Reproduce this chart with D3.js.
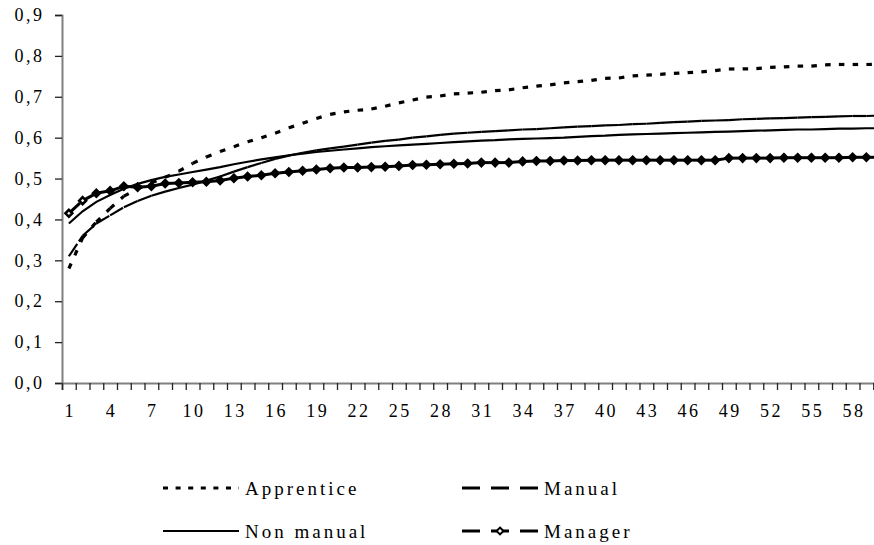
<!DOCTYPE html>
<html>
<head>
<meta charset="utf-8">
<script src="https://cdn.jsdelivr.net/npm/d3@7"></script>
<style>
  html, body { margin: 0; padding: 0; background: #fff; overflow: hidden; }
  svg { display: block; overflow: hidden; }
  text { font-family: "Liberation Serif", "DejaVu Serif", serif; fill: #000; }
</style>
</head>
<body>
<svg id="chart" width="874" height="545"></svg>
<script>
// ---- data ----
const categories = [1,2,3,4,5,6,7,8,9,10,11,12,13,14,15,16,17,18,19,20,21,22,23,24,25,26,27,28,29,30,
  31,32,33,34,35,36,37,38,39,40,41,42,43,44,45,46,47,48,49,50,51,52,53,54,55,56,57,58,59,60];
const xTickLabels = [1,4,7,10,13,16,19,22,25,28,31,34,37,40,43,46,49,52,55,58];
const yTicks = [0,0.1,0.2,0.3,0.4,0.5,0.6,0.7,0.8,0.9];
const yTickLabels = ["0,0","0,1","0,2","0,3","0,4","0,5","0,6","0,7","0,8","0,9"];
const seriesNames = ["Apprentice","Manual","Non manual","Manager"];

const apprentice = [0.280,0.355,0.394,0.427,0.457,0.475,0.490,0.503,0.518,0.537,
  0.553,0.566,0.578,0.590,0.600,0.611,0.624,0.635,0.647,0.657,
  0.663,0.667,0.670,0.677,0.685,0.692,0.699,0.702,0.707,0.709,
  0.711,0.715,0.717,0.722,0.726,0.729,0.734,0.737,0.740,0.745,
  0.746,0.751,0.753,0.755,0.757,0.759,0.761,0.764,0.768,0.768,
  0.769,0.772,0.773,0.775,0.775,0.778,0.779,0.779,0.779,0.780];
const manual = [0.310,0.360,0.390,0.410,0.430,0.445,0.458,0.468,0.477,0.485,
  0.495,0.505,0.517,0.528,0.538,0.548,0.556,0.563,0.569,0.574,
  0.578,0.583,0.588,0.592,0.595,0.600,0.603,0.607,0.610,0.612,
  0.614,0.616,0.618,0.620,0.621,0.623,0.625,0.627,0.628,0.630,
  0.631,0.633,0.634,0.636,0.638,0.639,0.641,0.642,0.643,0.645,
  0.646,0.647,0.648,0.649,0.650,0.651,0.652,0.653,0.653,0.654];
const nonManual = [0.390,0.420,0.443,0.460,0.475,0.487,0.496,0.504,0.510,0.516,
  0.522,0.528,0.535,0.541,0.547,0.552,0.557,0.561,0.565,0.568,
  0.571,0.574,0.577,0.579,0.581,0.583,0.585,0.587,0.589,0.591,
  0.593,0.594,0.596,0.597,0.598,0.599,0.600,0.602,0.604,0.605,
  0.607,0.608,0.609,0.610,0.611,0.612,0.613,0.614,0.615,0.616,
  0.617,0.618,0.619,0.620,0.620,0.621,0.622,0.622,0.623,0.623];
const manager = [0.415,0.446,0.464,0.470,0.481,0.479,0.481,0.488,0.489,0.491,
  0.492,0.495,0.501,0.505,0.508,0.513,0.516,0.519,0.522,0.525,
  0.527,0.527,0.528,0.529,0.531,0.533,0.534,0.535,0.536,0.537,
  0.539,0.539,0.539,0.542,0.543,0.543,0.544,0.544,0.545,0.545,
  0.545,0.545,0.545,0.545,0.545,0.545,0.545,0.545,0.550,0.550,
  0.550,0.550,0.551,0.551,0.551,0.551,0.551,0.552,0.552,0.552];

// ---- layout ----
const svg = d3.select("#chart");
const mLeft = 62, mRight = 887, mTop = 15, mBottom = 383;
const x = d3.scaleBand().domain(categories).range([mLeft, mRight]).padding(0);
const xEdge = d3.scaleLinear().domain([0, categories.length]).range([mLeft, mRight]);
const y = d3.scaleLinear().domain([0, 0.9]).range([mBottom, mTop]);
const cx = d => x(d) + x.bandwidth() / 2;
const FONT = 18, LS = 2.5;

// y axis
const yAxis = svg.append("g").attr("transform", `translate(${mLeft},0)`)
  .call(d3.axisLeft(y).tickValues(yTicks).tickSize(7).tickPadding(10.5)
    .tickFormat((d, i) => yTickLabels[i]));
yAxis.select(".domain").attr("stroke", "#808080").attr("stroke-width", 2);
yAxis.selectAll(".tick line").attr("stroke", "#222").attr("stroke-width", 1.3);
yAxis.selectAll(".tick text").attr("font-size", FONT).attr("letter-spacing", LS)
  .attr("font-family", "Liberation Serif").attr("fill", "#000");

// x axis: ticks at category boundaries
const xAxis = svg.append("g").attr("transform", `translate(0,${mBottom})`)
  .call(d3.axisBottom(xEdge).tickValues(d3.range(0, categories.length + 1)).tickSize(7).tickFormat(""));
xAxis.select(".domain").attr("stroke", "#808080").attr("stroke-width", 2);
xAxis.selectAll(".tick line").attr("stroke", "#222").attr("stroke-width", 1.3);

// x labels at category centres
const xLab = svg.append("g").attr("transform", `translate(0,${mBottom})`)
  .call(d3.axisBottom(x).tickValues(xTickLabels).tickSize(0).tickPadding(21));
xLab.select(".domain").remove();
xLab.selectAll(".tick text").attr("font-size", FONT).attr("letter-spacing", LS)
  .attr("font-family", "Liberation Serif").attr("fill", "#000").attr("dx", LS / 2);

// ---- series ----
const plot = svg.append("g");
function segments(vals) {
  const segs = [];
  for (let i = 0; i < vals.length - 1; i++) {
    segs.push([[cx(categories[i]), y(vals[i])], [cx(categories[i + 1]), y(vals[i + 1])]]);
  }
  return segs;
}
const lineGen = d3.line();

// Non manual: solid
plot.append("path").datum(nonManual)
  .attr("d", d3.line().x((d, i) => cx(categories[i])).y(d => y(d)))
  .attr("fill", "none").attr("stroke", "#000").attr("stroke-width", 2.2);

// Manual: long dash, pattern restarting on each segment
plot.append("g").selectAll("path").data(segments(manual)).join("path")
  .attr("d", lineGen).attr("fill", "none").attr("stroke", "#000")
  .attr("stroke-width", 2.2).attr("stroke-dasharray", "15,3");

// Apprentice: dotted, pattern restarting on each segment
plot.append("g").selectAll("path").data(segments(apprentice)).join("path")
  .attr("d", lineGen).attr("fill", "none").attr("stroke", "#000")
  .attr("stroke-width", 3.2).attr("stroke-dasharray", "5.5,9");

// Manager: dashed thick line with diamond markers
plot.append("g").selectAll("path").data(segments(manager)).join("path")
  .attr("d", lineGen).attr("fill", "none").attr("stroke", "#000")
  .attr("stroke-width", 3).attr("stroke-dasharray", "15,3");
const diamond = d3.symbol().type(d3.symbolDiamond2).size(30);
plot.append("g").selectAll("path").data(manager).join("path")
  .attr("d", diamond)
  .attr("transform", (d, i) => `translate(${cx(categories[i])},${y(d)})`)
  .attr("fill", (d, i) => i < 2 ? "#fff" : "#000").attr("stroke", "#000").attr("stroke-width", 2.6);

// ---- legend ----
const legend = svg.append("g");
const legItems = [
  { name: seriesNames[0], x: 163, y: 488, dash: "5,7.6", w: 3, marker: false },
  { name: seriesNames[1], x: 462, y: 488, dash: "18,11", w: 3, marker: false },
  { name: seriesNames[2], x: 163, y: 531, dash: null, w: 2, marker: false },
  { name: seriesNames[3], x: 462, y: 531, dash: "18,11", w: 3, marker: true }
];
legItems.forEach(it => {
  const g = legend.append("g");
  g.append("line").attr("x1", it.x).attr("x2", it.x + 76).attr("y1", it.y).attr("y2", it.y)
    .attr("stroke", "#000").attr("stroke-width", it.w)
    .attr("stroke-dasharray", it.dash);
  if (it.marker) {
    g.append("path").attr("d", d3.symbol().type(d3.symbolDiamond2).size(30))
      .attr("transform", `translate(${it.x + 38},${it.y})`)
      .attr("fill", "#fff").attr("stroke", "#000").attr("stroke-width", 2);
  }
  g.append("text").attr("x", it.x + 82).attr("y", it.y + 7)
    .attr("font-size", 19).attr("letter-spacing", 3)
    .text(it.name);
});
</script>
</body>
</html>
